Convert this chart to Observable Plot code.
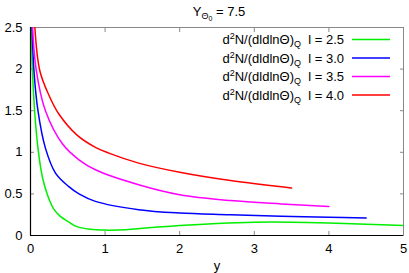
<!DOCTYPE html>
<html><head><meta charset="utf-8">
<script src="https://cdn.jsdelivr.net/npm/d3@7"></script>
<script src="https://cdn.jsdelivr.net/npm/@observablehq/plot@0.6"></script>
<style>body{margin:0;background:#fff;} svg{display:block;}</style>
</head><body><div id="chart"></div>
<script>
const labels = ["2.5", "3.0", "3.5", "4.0"];
const colors = ["#00ee00", "#0000ff", "#ff00ff", "#ff0000"];
const xTicks = [0, 1, 2, 3, 4, 5];
const yTicks = [0, 0.5, 1, 1.5, 2, 2.5];
const green_x = [0.008, 0.025, 0.055, 0.10, 0.16, 0.23, 0.31, 0.40, 0.50, 0.61, 0.80, 1.0, 1.28, 1.55, 2.0, 2.5, 3.0, 3.5, 4.0, 4.5, 5.0];
const green_y = [2.7, 2.0, 1.5, 1.05, 0.70, 0.48, 0.32, 0.23, 0.17, 0.11, 0.075, 0.065, 0.07, 0.09, 0.12, 0.145, 0.16, 0.16, 0.15, 0.135, 0.12];
const blue_x = [0.015, 0.045, 0.10, 0.20, 0.335, 0.51, 0.65, 0.87, 1.45, 2.0, 2.68, 3.36, 4.0, 4.5];
const blue_y = [2.7, 2.0, 1.5, 1.05, 0.75, 0.59, 0.50, 0.41, 0.31, 0.27, 0.25, 0.23, 0.22, 0.21];
const magenta_x = [0.025, 0.075, 0.20, 0.43, 0.65, 0.87, 1.45, 2.0, 2.68, 3.36, 4.0];
const magenta_y = [2.55, 2.0, 1.5, 1.10, 0.91, 0.79, 0.61, 0.49, 0.42, 0.38, 0.35];
const red_x = [0.055, 0.125, 0.25, 0.38, 0.62, 0.87, 1.05, 1.45, 2.0, 2.68, 3.5];
const red_y = [2.55, 1.98, 1.68, 1.46, 1.21, 1.06, 0.99, 0.87, 0.76, 0.66, 0.57];

const seriesX = [green_x, blue_x, magenta_x, red_x];
const seriesY = [green_y, blue_y, magenta_y, red_y];
const rows = [];
seriesX.forEach((xs, i) => xs.forEach((x, j) => rows.push({l: labels[i], x, y: seriesY[i][j]})));

const font = "'Liberation Sans', Arial, sans-serif";
const W = 409, H = 273;
const plot = Plot.plot({
  width: W, height: H,
  marginLeft: 30, marginRight: 6, marginTop: 27, marginBottom: 38,
  style: {fontFamily: font, fontSize: "13px", color: "#000", background: "#fff"},
  x: {domain: [0, 5]},
  y: {domain: [0, 2.5]},
  color: {domain: labels, range: colors},
  marks: [
    Plot.frame({stroke: "#888"}),
    Plot.axisX({anchor: "top", ticks: xTicks, tickSize: -4, stroke: "#888", tickFormat: () => "", label: null}),
    Plot.axisY({anchor: "right", ticks: yTicks, tickSize: -4, stroke: "#888", tickFormat: () => "", label: null}),
    Plot.axisX({anchor: "bottom", ticks: xTicks, tickSize: -4, tickPadding: 12, stroke: "#888", tickFormat: d => String(d), label: null, fontSize: 13}),
    Plot.axisY({anchor: "left", ticks: yTicks, tickSize: -4, tickPadding: 12, stroke: "#888", tickFormat: d => String(d), label: null, fontSize: 13}),
    Plot.line(rows, {x: "x", y: "y", z: "l", stroke: "l", strokeWidth: 1.5, curve: "catmull-rom", clip: true}),
    Plot.ruleX([0], {stroke: "#000", strokeWidth: 1.2}),
    Plot.ruleY([0], {stroke: "#000", strokeWidth: 1.2})
  ]
});
document.getElementById("chart").appendChild(plot);

const svg = d3.select(plot);
// x-axis label
svg.append("text").attr("x", 217).attr("y", 270).attr("text-anchor", "middle")
  .attr("font-family", font).attr("font-size", 13).attr("fill", "#000").text("y");
// title
const t = svg.append("text").attr("x", 219).attr("y", 16).attr("text-anchor", "middle")
  .attr("font-family", font).attr("font-size", 13).attr("fill", "#000");
t.append("tspan").text("Y");
t.append("tspan").attr("font-size", 9).attr("dy", 3).text("Θ");
t.append("tspan").attr("font-size", 7).attr("dy", 2).text("0");
t.append("tspan").attr("dy", -5).text(" = 7.5");

// legend
const lg = svg.append("g").attr("font-family", font).attr("font-size", 13);
labels.forEach((lab, i) => {
  const y = 44 + i * 18.5;
  const tx = lg.append("text").attr("x", 344).attr("y", y).attr("text-anchor", "end").attr("fill", "#000");
  tx.append("tspan").text("d");
  tx.append("tspan").attr("font-size", 9).attr("dy", -5).text("2");
  tx.append("tspan").attr("dy", 5).text("N/(dldlnΘ)");
  tx.append("tspan").attr("font-size", 9).attr("dy", 3).text("Q");
  tx.append("tspan").attr("dy", -3).text("  l = " + lab);
  lg.append("line").attr("x1", 352).attr("x2", 390).attr("y1", y - 4.5).attr("y2", y - 4.5)
    .attr("stroke", colors[i]).attr("stroke-width", 1.5);
});
</script></body></html>
